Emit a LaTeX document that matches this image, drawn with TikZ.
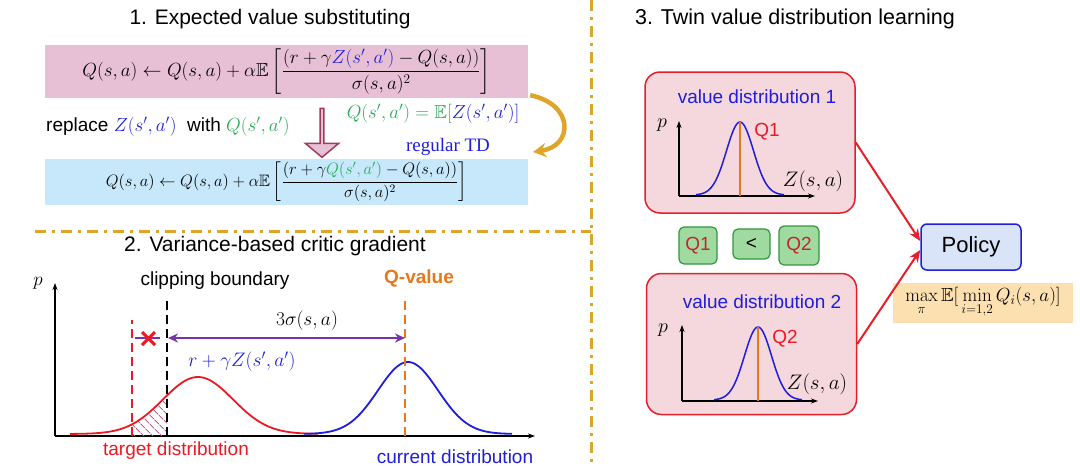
\RequirePackage{fix-cm}
\documentclass[tikz,border=0pt]{standalone}
\usepackage{amssymb}
\usepackage[no-math]{fontspec}
\setmainfont{Liberation Sans}
\newfontfamily\tdfont{Liberation Serif}
\usetikzlibrary{arrows.meta,patterns.meta,shapes.arrows,calc}

\definecolor{gold}{RGB}{222,165,40}
\definecolor{fpink}{RGB}{232,192,214}
\definecolor{fblue}{RGB}{198,232,250}
\definecolor{maroon}{RGB}{160,60,90}
\definecolor{zblue}{RGB}{30,30,220}
\definecolor{qgreen}{RGB}{40,170,90}
\definecolor{tred}{RGB}{235,25,35}
\definecolor{qorange}{RGB}{230,120,30}
\definecolor{purp}{RGB}{120,50,170}
\definecolor{hatch}{RGB}{185,95,145}
\definecolor{boxred}{RGB}{230,30,40}
\definecolor{boxpink}{RGB}{245,215,222}
\definecolor{qfill}{RGB}{160,218,160}
\definecolor{qborder}{RGB}{50,150,60}
\definecolor{qtext}{RGB}{190,40,40}
\definecolor{polblue}{RGB}{218,228,248}
\definecolor{maxfill}{RGB}{252,224,176}

\begin{document}
\begin{tikzpicture}[x=1pt, y=-1pt,
    every node/.style={font=\fontsize{19}{21}\selectfont, inner sep=0pt},
    ttl/.style={font=\fontsize{21}{24}\selectfont},
    divider/.style={gold, line width=3pt, dash pattern=on 11pt off 6pt on 3pt off 6pt},
    fmlbox/.style={minimum width=483pt},
    vline/.style={line width=2.6pt, dash pattern=on 9pt off 5pt},
    axis/.style={line width=1.2pt, -{Stealth[length=7pt,width=5pt]}},
    distbox/.style={draw=boxred, fill=boxpink, line width=1.5pt, rounded corners=15pt, minimum width=210pt, minimum height=141pt},
    qbox/.style={draw=qborder, fill=qfill, line width=1.2pt, rounded corners=5pt, font=\fontsize{19}{21}\selectfont},
    redarrow/.style={boxred, line width=2pt, -{Stealth[length=12pt,width=10pt]}}]

    \useasboundingbox (0,0) rectangle (1080,466);

    % Dividers
    \draw[divider] (591,0) -- (591,466);
    \draw[divider] (35,231) -- (591,231);

    % 1. Expected value substituting
    \node[ttl] (t1) at (270,19) {1. Expected value substituting};
    \node[fmlbox, fill=fpink, minimum height=53pt, font=\fontsize{19}{21}\selectfont] (zupd) at (286.5,71.5)
        {$\displaystyle Q(s,a) \leftarrow Q(s,a) + \alpha\mathbb{E}\left[\frac{\big(r+\gamma \textcolor{zblue}{Z(s',a')} - Q(s,a)\big)}{\sigma(s,a)^2}\right]$};
    \node[fmlbox, fill=fblue, minimum height=46pt, font=\fontsize{16.5}{18}\selectfont] (qupd) at (286.5,182)
        {$\displaystyle Q(s,a) \leftarrow Q(s,a) + \alpha\mathbb{E}\left[\frac{\big(r+\gamma \textcolor{qgreen}{Q(s',a')} - Q(s,a)\big)}{\sigma(s,a)^2}\right]$};
    \node[single arrow, shape border rotate=270, draw=maroon, fill=fpink, line width=1.5pt,
        minimum height=49pt, minimum width=33pt, single arrow head extend=5.5pt, single arrow tip angle=100] (subst) at (322,132) {};
    \node[anchor=west, font=\fontsize{19}{21}\selectfont] (repl) at (46,127)
        {replace \textcolor{zblue}{$Z(s',a')$}\ \ with \textcolor{qgreen}{$Q(s',a')$}};
    \node[font=\fontsize{19}{21}\selectfont, text=qgreen] (expq) at (433,114)
        {$Q(s',a') = \mathbb{E}[\textcolor{zblue}{Z(s',a')]}$};
    \node[font=\fontsize{19}{21}\selectfont, text=zblue] (regtd) at (448,147) {\tdfont regular TD};
    \coordinate (tdend) at (533,152);
    \draw[gold, line width=4.5pt, -{Stealth[length=13pt,width=14pt]}]
        ([shift={(2,-3)}]zupd.south east) .. controls (574,104) and (574,146) .. (tdend);

    % 2. Variance-based critic gradient
    \node[ttl] (t2) at (275,246) {2. Variance-based critic gradient};
    \coordinate (o) at (55,436);
    \draw[axis] (o) -- (55,283);
    \draw[axis] (o) -- (535,436);
    \node (p2) at (38,283) {$p$};

    % hatched part and densities
    \fill[pattern={Lines[angle=-45,distance=6.5pt,line width=0.9pt]}, pattern color=hatch]
        (132,436) -- plot[domain=132:167, samples=20] (\x, {434-57*exp(-((\x-198)/35)*((\x-198)/35)/2)}) -- (167,436) -- cycle;
    \draw[tred, line width=1.8pt] plot[domain=70:318, samples=90] (\x, {434-57*exp(-((\x-198)/35)*((\x-198)/35)/2)});
    \draw[zblue, line width=1.8pt] plot[domain=304:512, samples=90] (\x, {434-72*exp(-((\x-408)/30)*((\x-408)/30)/2)});

    % boundaries
    \draw[vline, tred] (132,436) -- (132,320);
    \draw[vline, black] (167,436) -- (167,300);
    \draw[vline, qorange] (405,436) -- (405,296);
    \node (clip) at (215,281) {clipping boundary};
    \node[font=\fontsize{19}{21}\selectfont\bfseries, text=qorange] (qval) at (419,278) {Q-value};

    % 3 sigma
    \coordinate (clipL) at (168,338);
    \coordinate (qvR) at (405,338);
    \draw[purp, line width=2pt, {Stealth[length=10pt,width=9pt]}-{Stealth[length=10pt,width=9pt]}] (clipL) -- (qvR);
    \draw[purp, line width=2pt] (135,338) -- (160,338);
    \draw[tred, line width=3pt] (142,332) -- (155,345) (142,345) -- (155,332);
    \node[font=\fontsize{19.5}{21}\selectfont] (sig) at (307,321) {$3\sigma(s,a)$};
    \node[font=\fontsize{19.5}{21}\selectfont, text=zblue] (tgt) at (242,362) {$r+\gamma Z(s',a')$};
    \node[text=tred] (tdist) at (176,451) {target distribution};
    \node[text=zblue] (cdist) at (455,457) {current distribution};

    % 3. Twin value distribution learning
    \node[ttl, font=\fontsize{21.5}{24}\selectfont] (t3) at (795,19) {3. Twin value distribution learning};
    \node[distbox] (vd1) at (750,142.5) {};
    \node[distbox] (vd2) at (751.5,344) {};
    \node[text=zblue] (vd1lbl) at (757,97) {value distribution 1};
    \node[text=zblue] (vd2lbl) at (762,302) {value distribution 2};

    % mini plot 1
    \draw[axis, line width=1.3pt] (679,196) -- (679,121);
    \draw[axis, line width=1.3pt] (679,196) -- (815,196);
    \draw[zblue, line width=1.5pt] plot[domain=696:784, samples=60] (\x, {195-73*exp(-((\x-740)/13.5)*((\x-740)/13.5)/2)});
    \draw[qorange, line width=1.5pt] (740,196) -- (740,122);
    \node[text=tred] (q1lbl) at (767,132) {Q1};
    \node[font=\fontsize{20}{22}\selectfont] (p31) at (662,125) {$p$};
    \node[font=\fontsize{21}{23}\selectfont] (z31) at (813,181) {$Z(s,a)$};

    % mini plot 2
    \draw[axis, line width=1.3pt] (682,401) -- (682,325);
    \draw[axis, line width=1.3pt] (682,401) -- (818,401);
    \draw[zblue, line width=1.5pt] plot[domain=714:802, samples=60] (\x, {400-73*exp(-((\x-758)/13.5)*((\x-758)/13.5)/2)});
    \draw[qorange, line width=1.5pt] (758,401) -- (758,327);
    \node[text=tred] (q2lbl) at (785,339) {Q2};
    \node[font=\fontsize{20}{22}\selectfont] (p32) at (663,330) {$p$};
    \node[font=\fontsize{21}{23}\selectfont] (z32) at (817,384) {$Z(s,a)$};

    % comparison
    \node[qbox, minimum width=38pt, minimum height=37pt, text=qtext] (q1) at (698,245.5) {Q1};
    \node[qbox, minimum width=37pt, minimum height=30pt] (lt) at (751.5,244) {<};
    \node[qbox, minimum width=40pt, minimum height=39pt, text=qtext] (q2) at (799,245.5) {Q2};

    % policy
    \node[draw=zblue, fill=polblue, line width=1.5pt, rounded corners=6pt, minimum width=100pt, minimum height=46pt,
        font=\fontsize{22}{24}\selectfont] (policy) at (971,247) {Policy};
    \node[fill=maxfill, minimum width=180pt, minimum height=40pt, font=\fontsize{19}{21}\selectfont] (obj) at (983,303)
        {$\max\limits_{\pi}\mathbb{E}\big[\min\limits_{i=1,2}Q_i(s,a)\big]$};
    \draw[redarrow] (vd1.east) -- ([yshift=6pt]policy.west);
    \draw[redarrow] (vd2.east) -- ([yshift=-3pt]policy.west);
\end{tikzpicture}
\end{document}
